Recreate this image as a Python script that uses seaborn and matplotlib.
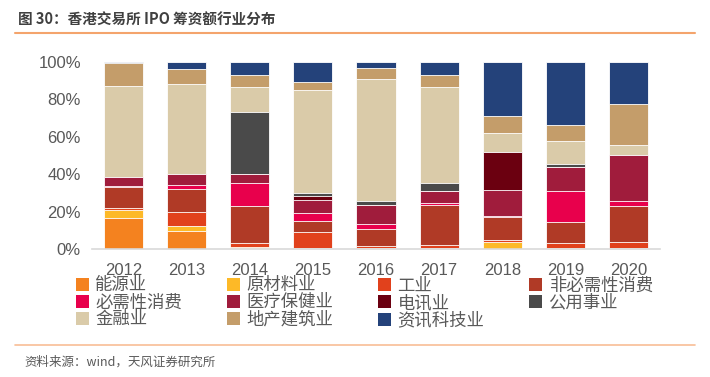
import numpy as np
import pandas as pd
import matplotlib
matplotlib.use('agg')
import matplotlib.pyplot as plt
import seaborn as sns
from matplotlib.patches import Patch

years = ["2012", "2013", "2014", "2015", "2016", "2017", "2018", "2019", "2020"]

sectors = ["能源业", "原材料业", "工业", "非必需性消费", "必需性消费", "医疗保健业",
           "电讯业", "公用事业", "金融业", "地产建筑业", "资讯科技业"]

# share of IPO funds raised (%)
energy      = [16.4, 9.8, 0.7, 0.5, 0.3, 0.7, 0.0, 0.5, 0.4]
materials   = [4.6, 2.3, 0.2, 0.0, 0.0, 0.0, 3.6, 0.2, 0.0]
industry    = [0.7, 7.8, 2.5, 8.4, 1.5, 1.6, 1.4, 2.5, 3.2]
non_ess     = [11.2, 12.3, 19.6, 6.0, 8.9, 21.4, 12.1, 11.0, 19.2]
essential   = [0.5, 2.1, 12.5, 4.3, 2.8, 1.1, 0.7, 16.9, 2.7]
health      = [5.0, 5.9, 4.8, 6.8, 10.0, 6.0, 13.5, 12.6, 24.7]
telecom     = [0.0, 0.2, 0.0, 2.5, 0.0, 0.0, 20.5, 0.0, 0.0]
utilities   = [0.0, 0.0, 32.9, 1.2, 2.0, 4.4, 0.0, 1.8, 0.0]
finance     = [48.9, 48.2, 13.5, 55.3, 65.5, 51.6, 10.1, 12.1, 5.3]
real_estate = [11.9, 7.8, 6.6, 4.3, 5.9, 6.0, 9.4, 8.9, 22.1]
info_tech   = [0.7, 3.8, 6.9, 10.7, 3.2, 7.1, 28.6, 33.5, 22.4]

colors = ["#F4821F", "#FDB927", "#E1411C", "#B03A26", "#E8004C", "#A01C3C",
          "#6B0010", "#4A4A4A", "#DACBA9", "#C49D6A", "#24427A"]

series = [energy, materials, industry, non_ess, essential, health,
          telecom, utilities, finance, real_estate, info_tech]

df = pd.DataFrame(np.array(series).T, columns=sectors)
df.insert(0, "year", years)
df[sectors] = df[sectors].div(df[sectors].sum(axis=1), axis=0)
cum = df[sectors].cumsum(axis=1)

sns.set_style("white")
plt.rcParams['font.family'] = ['Liberation Sans', 'Noto Sans CJK SC', 'DejaVu Sans']

fig = plt.figure(figsize=(7.1, 3.77), dpi=100)
ax = fig.add_axes([0.1296, 0.3395, 0.80, 0.496])

# overlay cumulative totals from top segment down
for s, c in reversed(list(zip(sectors, colors))):
    sns.barplot(x=df["year"], y=cum[s], color=c, width=0.62, ax=ax,
                edgecolor="white", linewidth=0.6, saturation=1)

ax.set_ylim(0, 1)
ax.set_xlim(-0.5, 8.5)
ax.set_yticks([0, 0.2, 0.4, 0.6, 0.8, 1.0])
ax.set_yticklabels(["0%", "20%", "40%", "60%", "80%", "100%"])
ax.set_xlabel("")
ax.set_ylabel("")
ax.tick_params(axis='both', length=0, labelsize=12, labelcolor="#595959")
ax.tick_params(axis='x', pad=10)
ax.tick_params(axis='y', pad=8)
for sp in ["top", "right", "left"]:
    ax.spines[sp].set_visible(False)
ax.spines["bottom"].set_color("#D9D9D9")
ax.spines["bottom"].set_linewidth(1.2)

handles = [Patch(facecolor=c, edgecolor='none') for c in colors]
order = [0, 4, 8, 1, 5, 9, 2, 6, 10, 3, 7]
fig.legend([handles[i] for i in order], [sectors[i] for i in order],
           loc="upper left", bbox_to_anchor=(0.095, 0.288), ncol=4, frameon=False,
           fontsize=12.5, handlelength=0.75, handleheight=0.75, handletextpad=0.35,
           columnspacing=2.6, labelspacing=0.05, borderpad=0, labelcolor="#595959")

fig.text(0.026, 0.948, "图 30：香港交易所 IPO 筹资额行业分布", fontsize=10.5,
         fontweight="bold", color="#404040", va="center",
         family=['Noto Sans CJK SC', 'DejaVu Sans'])
fig.add_artist(plt.Line2D([0.021, 0.979], [0.912, 0.912], color="#F4A46C", lw=1.5))
fig.add_artist(plt.Line2D([0.021, 0.979], [0.085, 0.085], color="#F8BE96", lw=1.2))
fig.text(0.035, 0.04, "资料来源：wind，天风证券研究所", fontsize=9, color="#595959",
         va="center", family=['Noto Sans CJK SC', 'DejaVu Sans'])

fig.savefig("out.png", dpi=100, facecolor="white")
